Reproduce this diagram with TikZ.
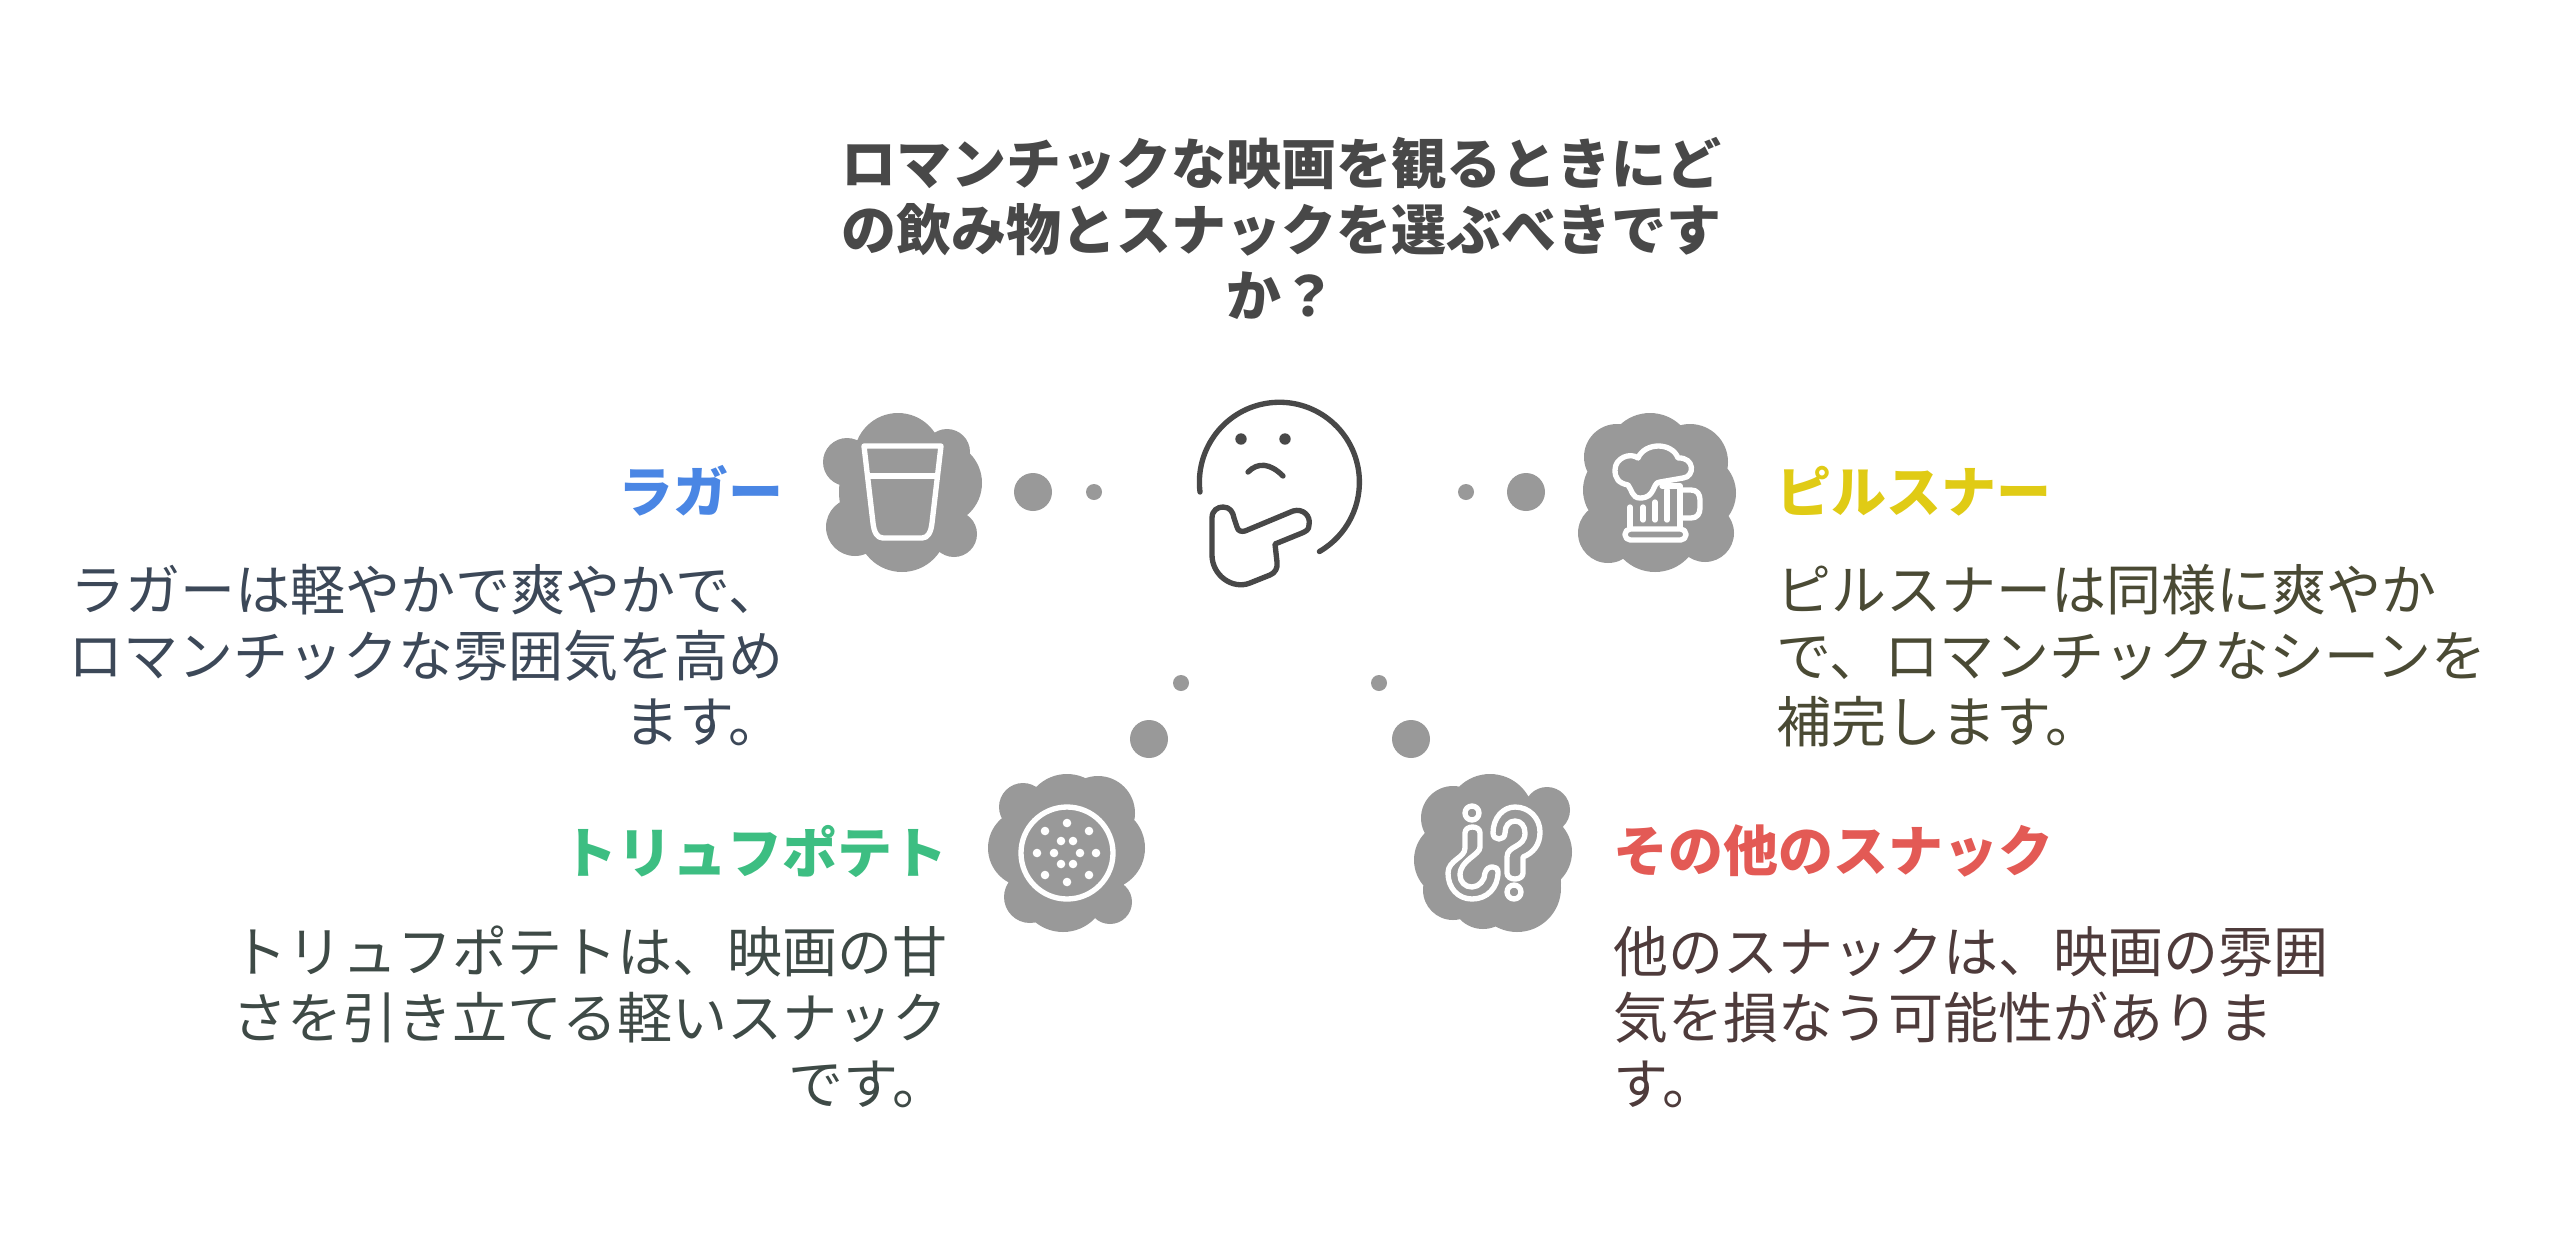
\documentclass[tikz,border=0pt]{standalone}
\usepackage{fontspec}
\setmainfont{Noto Sans CJK JP}
\lineskiplimit=-100pt
\normallineskiplimit=-100pt
\definecolor{blobgrey}{HTML}{999999}
\definecolor{inkgrey}{HTML}{484848}
\definecolor{lagerblue}{HTML}{4A86E4}
\definecolor{lagerink}{HTML}{3C4858}
\definecolor{pilsyellow}{HTML}{E0CB15}
\definecolor{pilsink}{HTML}{4A4A34}
\definecolor{trufgreen}{HTML}{3DBE82}
\definecolor{trufink}{HTML}{3E4A46}
\definecolor{snackred}{HTML}{E35A55}
\definecolor{snackink}{HTML}{4E3B3B}
\tikzset{
  blob/.style={fill=blobgrey},
  iconline/.style={draw=white,line width=4pt,line join=round,line cap=round},
  faceline/.style={draw=inkgrey,line width=4pt,line join=round,line cap=round},
  titletext/.style={inner sep=0pt,align=center,text=inkgrey,font=\fontsize{41.25}{49.5}\selectfont\bfseries},
  headtext/.style={inner sep=0pt,font=\fontsize{41.25}{49.5}\selectfont\bfseries},
  bodytext/.style={inner sep=0pt,font=\fontsize{41.25}{49.5}\selectfont}
}
\begin{document}
\begin{tikzpicture}[x=0.75pt,y=0.75pt,yscale=-1,xscale=1]
    \useasboundingbox (0,0) rectangle (2560,1247);
    %Shape: Lager blob
    \fill [blob] (898,457) circle (44) (902,527) circle (45) (847,462) circle (24) (855,527) circle (29) (947,452) circle (23) (940,483) circle (42) (954,534) circle (23) (902,492) circle (63);
    %Shape: Glass
    \draw [iconline] (864,446) -- (941,446) -- (932,523) .. controls (931,532) and (928,538) .. (922,538) -- (883,538) .. controls (877,538) and (874,532) .. (873,523) -- cycle;
    \draw [iconline] (869,476) -- (937,476);
    %Shape: Lager dots
    \fill [blob] (1033,492) circle (19) (1094,492) circle (8);

    %Shape: Pilsner blob
    \fill [blob] (1650,457) circle (44) (1655,527) circle (45) (1617,457) circle (33) (1690,462) circle (38) (1697,493) circle (39) (1705,533) circle (29) (1608,533) circle (30) (1623,490) circle (40) (1653,493) circle (63);
    %Shape: Mug
    \draw [iconline] (1638,458) .. controls (1645,442) and (1672,442) .. (1678,458) .. controls (1695,457) and (1695,477) .. (1683,478) -- (1660,482) .. controls (1652,482) and (1656,498) .. (1640,498) .. controls (1632,498) and (1632,490) .. (1628,485) .. controls (1618,483) and (1615,478) .. (1615,470) .. controls (1615,458) and (1630,452) .. (1638,458) -- cycle;
    \draw [iconline] (1630,507) -- (1630,527);
    \draw [iconline] (1662,486) -- (1680,486) -- (1680,527);
    \draw [iconline] (1683,490) -- (1691,490) .. controls (1697,490) and (1700,494) .. (1700,500) -- (1700,508) .. controls (1700,514) and (1697,518) .. (1691,518) -- (1683,518);
    \draw [iconline,rounded corners=4] (1625,529) rectangle (1686,540);
    \draw [iconline] (1643,507) -- (1643,520);
    \draw [iconline] (1655,502) -- (1655,520);
    \draw [iconline] (1667,490) -- (1667,520);
    %Shape: Pilsner dots
    \fill [blob] (1526,492) circle (19) (1466,492) circle (8);

    %Shape: Truffle blob
    \fill [blob] (1067,817) circle (43) (1063,888) circle (44) (1023,807) circle (24) (1098,813) circle (37) (1103,848) circle (42) (1027,848) circle (39) (1110,902) circle (22) (1030,897) circle (26) (1067,853) circle (63);
    %Shape: Truffle
    \draw [iconline] (1067,853) circle (46);
    \foreach \dx/\dy in {0/-30,-22/-22,22/-22,-6/-12,6/-12,-30/0,-13/0,13/0,29/0,-6/11,6/11,-22/22,22/22,0/29}
      \fill [white] (1067+\dx,853+\dy) circle (4.3);
    %Shape: Truffle dots
    \fill [blob] (1149,739) circle (19) (1181,683) circle (8);

    %Shape: Snack blob
    \fill [blob] (1490,818) circle (44) (1517,888) circle (44) (1453,818) circle (32) (1547,810) circle (23) (1533,852) circle (39) (1453,860) circle (39) (1453,890) circle (30) (1483,897) circle (32) (1533,883) circle (28) (1493,853) circle (63);
    %Shape: Question marks
    \draw [iconline] (1472,813) circle (7);
    \draw [iconline] (1465,833) .. controls (1465,825) and (1480,825) .. (1480,833) -- (1480,847) .. controls (1480,855) and (1460,860) .. (1460,875) .. controls (1460,882) and (1465,887) .. (1472,887) .. controls (1479,887) and (1485,880) .. (1485,873) .. controls (1487,865) and (1498,865) .. (1498,872) .. controls (1498,888) and (1487,899) .. (1472,899) .. controls (1458,899) and (1448,888) .. (1448,873) .. controls (1448,860) and (1465,858) .. (1465,848) -- cycle;
    \draw [iconline] (1514,892) circle (7);
    \draw [iconline] (1493,833) .. controls (1493,818) and (1503,807) .. (1515,807) .. controls (1529,807) and (1540,818) .. (1540,832) .. controls (1540,845) and (1533,853) .. (1523,857) -- (1523,873) .. controls (1523,881) and (1507,881) .. (1507,873) -- (1507,857) .. controls (1507,845) and (1525,848) .. (1525,833) .. controls (1525,826) and (1521,821) .. (1515,821) .. controls (1509,821) and (1505,826) .. (1505,833) .. controls (1505,841) and (1493,841) .. (1493,833) -- cycle;
    %Shape: Snack dots
    \fill [blob] (1411,739) circle (19) (1379,683) circle (8);

    %Shape: Thinking face
    \draw [faceline] (1200,492) arc [start angle=173,end angle=420,radius=80];
    \fill [inkgrey] (1241,439) circle (5.7) (1285,439) circle (5.7);
    \draw [faceline] (1248,472) .. controls (1258,462) and (1270,463) .. (1283,476);
    \draw [faceline] (1212,518) .. controls (1212,510) and (1218,507) .. (1223,507) .. controls (1230,507) and (1233,512) .. (1234,518) -- (1237,527) .. controls (1238,531) and (1241,532) .. (1245,531) -- (1293,511) .. controls (1303,508) and (1311,516) .. (1309,525) .. controls (1309,530) and (1306,531) .. (1302,533) -- (1275,544) -- (1277,562) .. controls (1278,568) and (1275,573) .. (1270,575) -- (1250,583) .. controls (1232,590) and (1212,575) .. (1212,555) -- cycle;

    % Text Node
    \node (question) [titletext,anchor=north] at (1281,137) {ロマンチックな映画を観るときにど\\の飲み物とスナックを選ぶべきです\\か？};
    % Text Node
    \node (lagerhead) [headtext,text=lagerblue,anchor=east] at (784,491) {ラガー};
    % Text Node
    \node (lagerbody) [bodytext,text=lagerink,align=right,anchor=north east] at (784,564) {ラガーは軽やかで爽やかで、\\ロマンチックな雰囲気を高め\\ます。};
    % Text Node
    \node (pilshead) [headtext,text=pilsyellow,anchor=west] at (1776,491) {ピルスナー};
    % Text Node
    \node (pilsbody) [bodytext,text=pilsink,align=left,anchor=north west] at (1776,564) {ピルスナーは同様に爽やか\\で、ロマンチックなシーンを\\補完します。};
    % Text Node
    \node (trufhead) [headtext,text=trufgreen,anchor=east] at (948,851) {トリュフポテト};
    % Text Node
    \node (trufbody) [bodytext,text=trufink,align=right,anchor=north east] at (948,926) {トリュフポテトは、映画の甘\\さを引き立てる軽いスナック\\です。};
    % Text Node
    \node (snackhead) [headtext,text=snackred,anchor=west] at (1613,851) {その他のスナック};
    % Text Node
    \node (snackbody) [bodytext,text=snackink,align=left,anchor=north west] at (1613,926) {他のスナックは、映画の雰囲\\気を損なう可能性がありま\\す。};
\end{tikzpicture}
\end{document}
